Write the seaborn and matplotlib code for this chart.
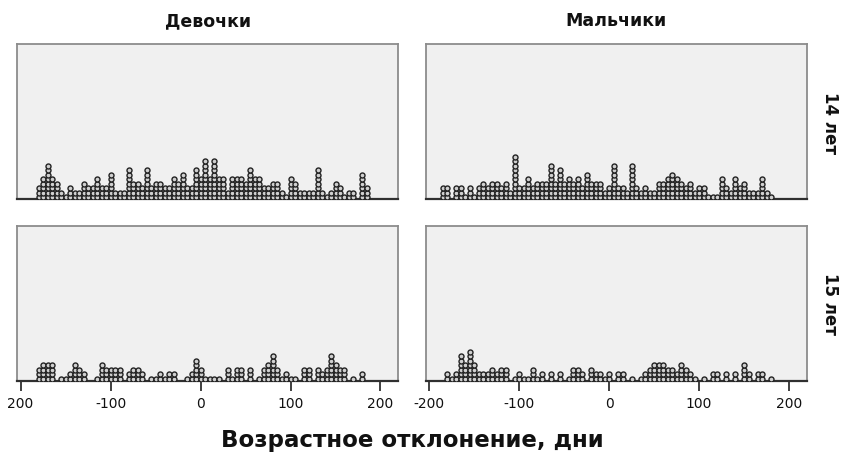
import matplotlib
matplotlib.use("Agg")
import matplotlib.pyplot as plt
import pandas as pd
import seaborn as sns

# Facet categories
sexes = ["Девочки", "Мальчики"]
ages = ["14 лет", "15 лет"]

# Age deviation (days, 5-day bins) and number of children in each bin
girls14_days = [-180, -175, -170, -165, -160, -155, -150, -145, -140, -135, -130, -125, -120, -115,
                -110, -105, -100, -95, -90, -85, -80, -75, -70, -65, -60, -55, -50, -45, -40, -35,
                -30, -25, -20, -15, -10, -5, 0, 5, 10, 15, 20, 25, 30, 35, 40, 45, 50, 55, 60, 65,
                70, 75, 80, 85, 90, 95, 100, 105, 110, 115, 120, 125, 130, 135, 140, 145, 150, 155,
                160, 165, 170, 180, 185]
girls14_counts = [3, 5, 8, 5, 4, 2, 1, 3, 2, 2, 4, 3, 3, 5,
                  3, 3, 6, 2, 2, 2, 7, 4, 4, 3, 7, 3, 4, 4, 3, 3,
                  5, 4, 6, 3, 3, 7, 5, 9, 5, 9, 5, 5, 2, 5, 5, 5, 4, 7, 5, 5,
                  3, 3, 4, 4, 2, 1, 5, 4, 2, 2, 2, 2, 7, 2, 1, 2, 4, 3,
                  1, 2, 2, 6, 3]

boys14_days = [-185, -180, -170, -165, -160, -155, -150, -145, -140, -135, -130, -125, -120, -115,
               -110, -105, -100, -95, -90, -85, -80, -75, -70, -65, -60, -55, -50, -45, -40, -35,
               -30, -25, -20, -15, -10, -5, 0, 5, 10, 15, 20, 25, 30, 35, 40, 45, 50, 55, 60, 65,
               70, 75, 80, 85, 90, 95, 100, 105, 110, 115, 120, 125, 130, 135, 140, 145, 150, 155,
               160, 165, 170, 175, 180]
boys14_counts = [3, 3, 3, 3, 1, 3, 1, 3, 4, 3, 4, 4, 3, 4,
                 2, 10, 3, 3, 5, 3, 4, 4, 4, 8, 4, 7, 4, 5, 4, 5,
                 3, 6, 4, 4, 4, 2, 3, 8, 3, 3, 2, 8, 3, 2, 3, 2, 2, 4, 4, 5,
                 6, 5, 4, 3, 4, 2, 3, 3, 1, 1, 1, 5, 3, 2, 5, 3, 4, 2,
                 2, 2, 5, 2, 1]

girls15_days = [-180, -175, -170, -165, -155, -150, -145, -140, -135, -130, -115, -110, -105, -100,
                -95, -90, -80, -75, -70, -65, -55, -50, -45, -40, -35, -30, -15, -10, -5, 0, 5,
                10, 15, 20, 30, 35, 40, 45, 55, 65, 70, 75, 80, 85, 90, 95, 100, 105, 115, 120,
                130, 135, 140, 145, 150, 155, 160, 170, 180]
girls15_counts = [3, 4, 4, 4, 1, 1, 2, 4, 3, 2, 1, 4, 3, 3,
                  3, 3, 2, 3, 3, 2, 1, 1, 2, 1, 2, 2, 1, 2, 5, 3, 1,
                  1, 1, 1, 3, 1, 3, 3, 3, 1, 3, 4, 6, 3, 1, 2, 1, 1, 3, 3,
                  3, 2, 3, 6, 4, 3, 3, 1, 2]

boys15_days = [-180, -175, -170, -165, -160, -155, -150, -145, -140, -135, -130, -125, -120, -115,
               -105, -100, -95, -90, -85, -80, -75, -65, -55, -45, -40, -35, -30, -20, -15, -10,
               -5, 0, 10, 15, 25, 35, 40, 45, 50, 55, 60, 65, 70, 75, 80, 85, 90, 95, 105, 115,
               120, 130, 140, 150, 155, 165, 170, 180]
boys15_counts = [2, 1, 2, 6, 4, 7, 4, 2, 2, 2, 3, 2, 3, 3,
                 1, 2, 1, 1, 3, 1, 2, 2, 2, 1, 3, 3, 2, 3, 2, 2,
                 1, 2, 2, 2, 1, 1, 2, 3, 4, 4, 4, 3, 3, 2, 4, 3, 2, 1, 1, 2,
                 2, 2, 2, 4, 2, 2, 2, 1]

x_ticks = [-200, -100, 0, 100, 200]
x_ticklabels_left = ["200", "-100", "0", "100", "200"]
x_ticklabels_right = ["-200", "-100", "0", "100", "200"]
x_label = "Возрастное отклонение, дни"

panels = [
    (sexes[0], ages[0], girls14_days, girls14_counts),
    (sexes[1], ages[0], boys14_days, boys14_counts),
    (sexes[0], ages[1], girls15_days, girls15_counts),
    (sexes[1], ages[1], boys15_days, boys15_counts),
]

# One row per child: dots in a bin are stacked upwards, one level each
rows = []
for sex, age, days, counts in panels:
    for d, c in zip(days, counts):
        for level in range(c):
            rows.append({"sex": sex, "age": age, "day": d, "level": level + 0.5})
df = pd.DataFrame(rows)

sns.set_theme(style="white")
plt.rcParams["font.family"] = ["DejaVu Sans"]

g = sns.FacetGrid(df, row="age", col="sex", row_order=ages, col_order=sexes,
                  sharex=False, sharey=True, despine=False, height=2.0, aspect=2.4)
g.map_dataframe(sns.scatterplot, x="day", y="level", s=13, color="#d0d0d0",
                edgecolor="#222222", linewidth=1.0, zorder=3)

g.figure.set_size_inches(8.46, 4.56)
g.figure.subplots_adjust(left=17 / 846, right=807 / 846, bottom=1 - 382 / 456, top=1 - 45 / 456,
                         wspace=27 / 381, hspace=26 / 155)
g.set_titles("")
g.set_axis_labels("", "")

for r, row_axes in enumerate(g.axes):
    for c, ax in enumerate(row_axes):
        ax.set_xlim(-204, 220)
        ax.set_ylim(0, 34.4)
        ax.set_yticks([])
        ax.set_xticks(x_ticks)
        ax.set_facecolor("#f0f0f0")
        for side in ["top", "right", "left"]:
            ax.spines[side].set_color("#8c8c8c")
            ax.spines[side].set_linewidth(1.3)
        ax.spines["bottom"].set_color("#303030")
        ax.spines["bottom"].set_linewidth(1.6)
        if r == 0:
            ax.tick_params(axis="x", bottom=False, labelbottom=False)
        else:
            ax.set_xticklabels(x_ticklabels_left if c == 0 else x_ticklabels_right)
            ax.tick_params(axis="x", bottom=True, labelbottom=True, direction="out",
                           length=7, width=1.3, color="#303030", labelsize=10,
                           labelcolor="#111111", pad=4)

for c, ax in enumerate(g.axes[0]):
    ax.text(0.5, 1 + 24 / 155, sexes[c], transform=ax.transAxes, ha="center", va="center",
            fontsize=12.5, fontweight="bold", color="#111111")

for r, ax in enumerate(g.axes[:, 1]):
    ax.text(1 + 23 / 381, 0.5, ages[r], transform=ax.transAxes, ha="center", va="center",
            rotation=270, fontsize=12, fontweight="bold", color="#111111")

g.figure.text(412 / 846, 1 - 441 / 456, x_label, ha="center", va="center",
              fontsize=16.5, fontweight="bold", color="#111111")

g.figure.savefig("out.png", dpi=100, facecolor="white")
